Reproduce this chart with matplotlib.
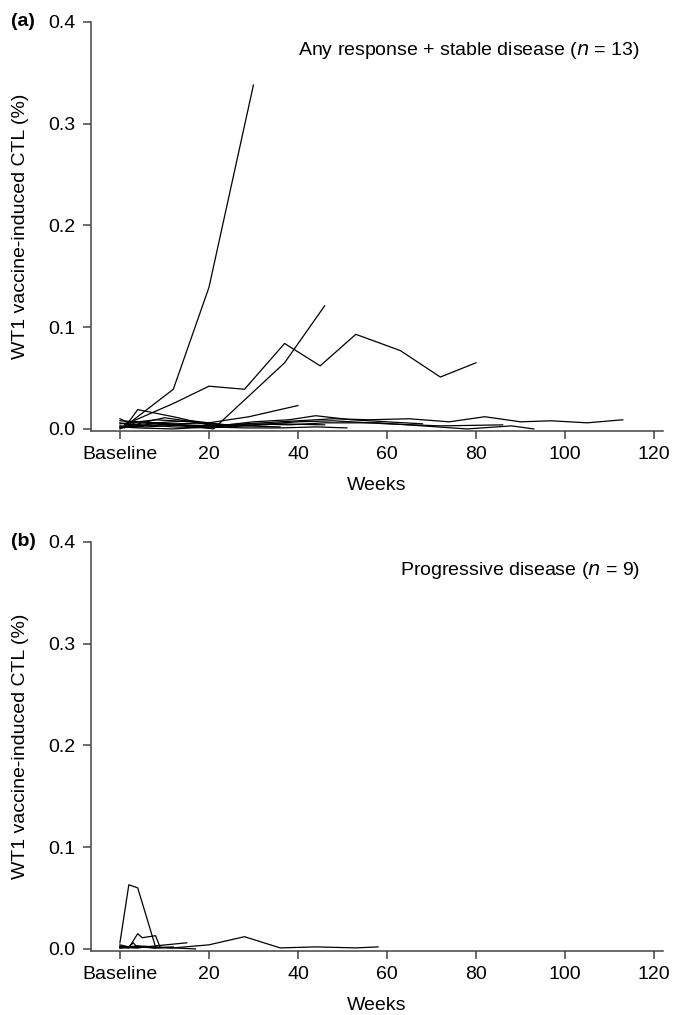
import numpy as np
import matplotlib
matplotlib.use("Agg")
import matplotlib.pyplot as plt

plt.rcParams['font.family'] = ['Liberation Sans', 'DejaVu Sans']

# panel (a): any response + stable disease, 13 patients
weeks_a = [
    [1, 12, 20, 30],
    [1, 8, 16, 21, 37, 46],
    [1, 12, 20, 28, 37, 45, 53, 63, 72, 80],
    [0, 4, 12, 20, 29, 40],
    [1, 4, 12, 20, 28, 36],
    [0, 8, 16, 24, 32, 40, 48, 56, 65, 74, 82, 90, 97, 105, 113],
    [0, 6, 14, 22, 30, 38, 46, 58, 68, 78, 88, 93],
    [0, 4, 12, 20, 28, 36, 44, 51],
    [0, 8, 16, 22, 30, 38, 44, 52, 60, 68],
    [0, 3, 10, 18, 26],
    [0, 6, 12, 20, 28, 36, 46],
    [0, 4, 10, 16, 20],
    [0, 4, 8, 14, 20, 30, 40, 48, 60, 72, 86],
]
ctl_a = [
    [0.002, 0.039, 0.139, 0.338],
    [0.003, 0.006, 0.003, 0.000, 0.065, 0.121],
    [0.004, 0.025, 0.042, 0.039, 0.084, 0.062, 0.093, 0.077, 0.051, 0.065],
    [0.006, 0.003, 0.005, 0.006, 0.012, 0.023],
    [0.001, 0.019, 0.012, 0.004, 0.003, 0.002],
    [0.008, 0.006, 0.008, 0.004, 0.006, 0.008, 0.010, 0.009, 0.010, 0.007, 0.012, 0.007, 0.008, 0.006, 0.009],
    [0.003, 0.002, 0.004, 0.003, 0.005, 0.004, 0.006, 0.006, 0.003, 0.000, 0.003, 0.000],
    [0.002, 0.001, 0.000, 0.002, 0.001, 0.001, 0.002, 0.001],
    [0.005, 0.009, 0.007, 0.003, 0.007, 0.009, 0.013, 0.009, 0.007, 0.005],
    [0.010, 0.004, 0.011, 0.006, 0.003],
    [0.001, 0.004, 0.002, 0.001, 0.003, 0.005, 0.004],
    [0.000, 0.007, 0.005, 0.002, 0.003],
    [0.002, 0.002, 0.006, 0.004, 0.002, 0.004, 0.007, 0.008, 0.005, 0.003, 0.004],
]

# panel (b): progressive disease, 9 patients
weeks_b = [
    [0, 2, 4, 8],
    [0, 2, 4, 5, 8, 9],
    [0, 4, 8, 12, 20, 28, 36, 44, 53, 58],
    [0, 4, 8, 15],
    [0, 4, 8, 12, 17],
    [0, 2, 3, 4],
    [0, 3, 6, 8],
    [0, 4, 8, 12],
    [0, 2, 4],
]
ctl_b = [
    [0.006, 0.063, 0.060, 0.002],
    [0.002, 0.001, 0.015, 0.011, 0.013, 0.002],
    [0.001, 0.002, 0.001, 0.001, 0.004, 0.012, 0.001, 0.002, 0.001, 0.002],
    [0.002, 0.001, 0.003, 0.006],
    [0.001, 0.003, 0.002, 0.001, 0.000],
    [0.004, 0.002, 0.006, 0.001],
    [0.003, 0.001, 0.002, 0.001],
    [0.001, 0.002, 0.001, 0.002],
    [0.002, 0.001, 0.003],
]

xticks = [0, 20, 40, 60, 80, 100, 120]
xticklabels = ["Baseline", "20", "40", "60", "80", "100", "120"]
yticks = [0.0, 0.1, 0.2, 0.3, 0.4]

fig = plt.figure(figsize=(6.76, 10.15), dpi=100)
ax_a = fig.add_axes([0.1346, 0.5754, 0.846, 0.4030])
ax_b = fig.add_axes([0.1346, 0.0631, 0.846, 0.4030])


def draw_panel(ax, weeks, vals, title, letter):
    for w, v in zip(weeks, vals):
        ax.plot(w, v, color="black", lw=0.9)
    ax.set_xlim(-6.5, 122)
    ax.set_ylim(-0.002, 0.4)
    ax.spines["top"].set_visible(False)
    ax.spines["right"].set_visible(False)
    for s in ["left", "bottom"]:
        ax.spines[s].set_color("#444444")
        ax.spines[s].set_linewidth(1.1)
    ax.set_xticks(xticks)
    ax.set_xticklabels(xticklabels)
    ax.set_yticks(yticks)
    ax.set_yticklabels(["0.0", "0.1", "0.2", "0.3", "0.4"])
    ax.tick_params(length=6, width=1.1, color="#444444", labelsize=14, pad=5)
    ax.set_xlabel("Weeks", fontsize=14, labelpad=10)
    ax.set_ylabel("WT1 vaccine-induced CTL (%)", fontsize=14)
    ax.yaxis.set_label_coords(-0.108, 0.5)
    ax.text(0.96, 0.93, title, transform=ax.transAxes, ha="right", va="center", fontsize=14)
    ax.text(-0.139, 1.0, letter, transform=ax.transAxes, ha="left", va="center",
            fontsize=14, fontweight="bold")


draw_panel(ax_a, weeks_a, ctl_a, r"Any response + stable disease ($\it{n}$ = 13)", "(a)")
draw_panel(ax_b, weeks_b, ctl_b, r"Progressive disease ($\it{n}$ = 9)", "(b)")

fig.savefig("out.png", dpi=100)
